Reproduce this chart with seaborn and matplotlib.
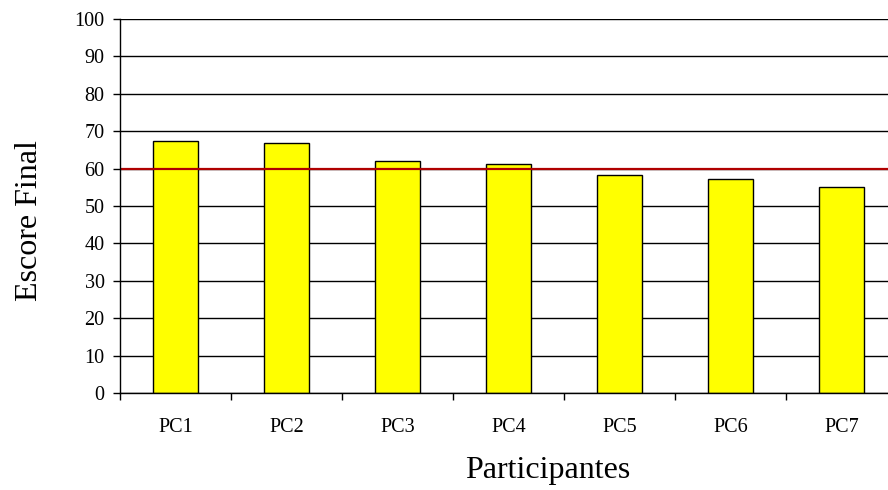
import matplotlib
matplotlib.use("Agg")
import matplotlib.pyplot as plt
import seaborn as sns
import pandas as pd
import numpy as np

# dados
participantes = ["PC1", "PC2", "PC3", "PC4", "PC5", "PC6", "PC7"]
escores = [67.5, 66.8, 61.9, 61.2, 58.2, 57.1, 55.1]
limite = 60
yticks = [0, 10, 20, 30, 40, 50, 60, 70, 80, 90, 100]

df = pd.DataFrame({"Participantes": participantes, "Escore": escores})

sns.set_style("white")
plt.rcParams["font.family"] = ["Liberation Serif", "DejaVu Serif"]
plt.rcParams["text.color"] = "black"
plt.rcParams["axes.labelcolor"] = "black"
plt.rcParams["xtick.color"] = "black"
plt.rcParams["ytick.color"] = "black"

fig = plt.figure(figsize=(8.88, 4.9), dpi=100)
ax = fig.add_axes([120 / 888, 1 - 393 / 490, 777 / 888, 374 / 490])

sns.barplot(x="Participantes", y="Escore", data=df, color="#ffff00",
            saturation=1, width=0.4, edgecolor="black", linewidth=1, ax=ax, zorder=3)

ax.set_ylim(0, 100)
ax.set_xlim(-0.5, len(participantes) - 0.5)
ax.set_yticks(yticks)
ax.yaxis.grid(True, color="black", linewidth=1)
ax.set_axisbelow(True)

# linha de corte em 60
ax.axhline(limite, color="#b00000", linewidth=1.6, zorder=4)

for s in ["top", "right"]:
    ax.spines[s].set_visible(False)
for s in ["left", "bottom"]:
    ax.spines[s].set_color("black")
    ax.spines[s].set_linewidth(1)
    ax.spines[s].set_zorder(5)

# marcas do eixo x nas divisões das categorias
ax.set_xticks(np.arange(-0.5, len(participantes) + 0.5, 1), minor=True)
ax.tick_params(axis="x", which="minor", length=5, width=1, color="black", direction="out", bottom=True)
ax.tick_params(axis="x", which="major", length=0, pad=18, labelsize=14.5, labelcolor="black")
ax.tick_params(axis="y", length=5, width=1, color="black", direction="out", left=True, pad=6,
               labelsize=14.5, labelcolor="black")

ax.set_xlabel("Participantes", fontsize=23, labelpad=14, color="black")
ax.set_ylabel("Escore Final", fontsize=23, labelpad=22, color="black")
ax.xaxis.label.set_x(0.55)
ax.yaxis.label.set_y(0.46)

fig.savefig("out.png", dpi=100)
